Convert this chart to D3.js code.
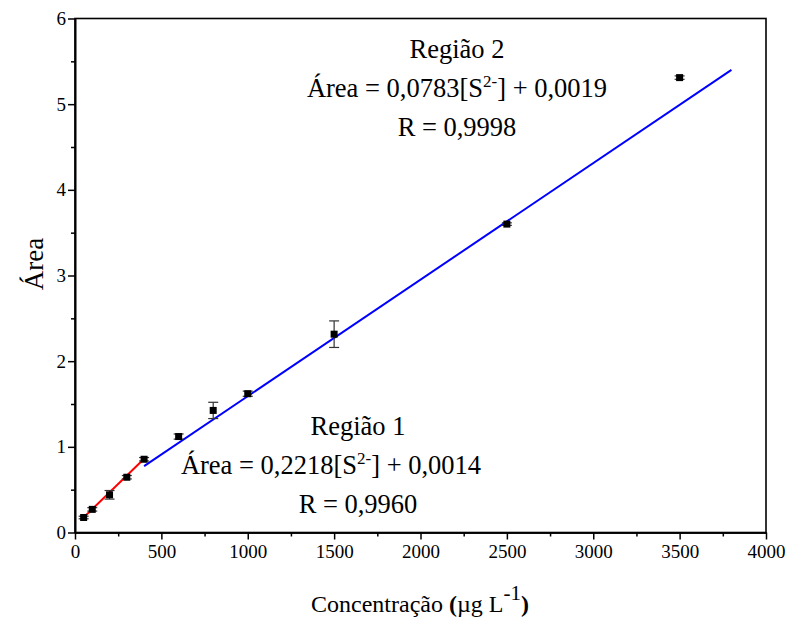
<!DOCTYPE html>
<html><head><meta charset="utf-8">
<script src="https://cdn.jsdelivr.net/npm/d3@7"></script>
<style>body{margin:0;background:#fff}svg{display:block}text{font-family:"Liberation Serif","Times New Roman",serif}</style>
</head><body><svg id="c" width="787" height="621"></svg>
<script>
const concentrations = [50, 100, 200, 300, 400, 600, 800, 1000, 1500, 2500, 3500];
const areas = [0.175, 0.27, 0.44, 0.645, 0.855, 1.12, 1.425, 1.62, 2.315, 3.60, 5.31];
const errors = [0.015, 0.02, 0.05, 0.02, 0.02, 0.03, 0.095, 0.03, 0.155, 0.015, 0.02];
const fit1X = [50, 400];
const fit1Y = [0.175, 0.86];
const fit2X = [400, 3800];
const fit2Y = [0.775, 5.40];
const xTicks = [0, 500, 1000, 1500, 2000, 2500, 3000, 3500, 4000];
const yTicks = [0, 1, 2, 3, 4, 5, 6];

const svg = d3.select("#c");
const L = 75, R = 766, T = 18.5, B = 532.5;
const x = d3.scaleLinear().domain([0, 4000]).range([L, R]);
const y = d3.scaleLinear().domain([0, 6]).range([B, T]);
const serif = '"Liberation Serif","Times New Roman",serif';

// frame
svg.append("rect").attr("x", L).attr("y", T).attr("width", R - L).attr("height", B - T)
  .attr("fill", "none").attr("stroke", "#000").attr("stroke-width", 1.6);

const xAx = svg.append("g").attr("transform", `translate(0,${B})`)
  .call(d3.axisBottom(x).tickValues(xTicks).tickSize(7).tickSizeOuter(0).tickPadding(5).tickFormat(d3.format("d")));
const xMin = svg.append("g").attr("transform", `translate(0,${B})`)
  .call(d3.axisBottom(x).tickValues(d3.range(250, 4000, 500)).tickSize(4).tickSizeOuter(0).tickFormat(""));
const yAx = svg.append("g").attr("transform", `translate(${L},0)`)
  .call(d3.axisLeft(y).tickValues(yTicks).tickSize(7).tickSizeOuter(0).tickPadding(2).tickFormat(d3.format("d")));
const yMin = svg.append("g").attr("transform", `translate(${L},0)`)
  .call(d3.axisLeft(y).tickValues(d3.range(0.5, 6, 1)).tickSize(4).tickSizeOuter(0).tickFormat(""));
[xAx, xMin, yAx, yMin].forEach(g => {
  g.attr("font-family", serif).attr("font-size", 19);
  g.select(".domain").attr("stroke-width", 1.6);
  g.selectAll(".tick line").attr("stroke-width", 1.5);
  g.selectAll("text").style("font-size", "19px").attr("fill", "#000").style("font-family", serif);
});

// fit lines
svg.append("line").attr("x1", x(fit2X[0])).attr("y1", y(fit2Y[0])).attr("x2", x(fit2X[1])).attr("y2", y(fit2Y[1]))
  .attr("stroke", "#0000ff").attr("stroke-width", 2);
svg.append("line").attr("x1", x(fit1X[0])).attr("y1", y(fit1Y[0])).attr("x2", x(fit1X[1])).attr("y2", y(fit1Y[1]))
  .attr("stroke", "#ff0000").attr("stroke-width", 2);

// error bars
const pts = concentrations.map((c, i) => ({c, a: areas[i], e: errors[i]}));
const eb = svg.append("g").attr("stroke", "#333").attr("stroke-width", 1.2);
pts.forEach(p => {
  const cx = x(p.c);
  eb.append("line").attr("x1", cx).attr("x2", cx).attr("y1", y(p.a + p.e)).attr("y2", y(p.a - p.e));
  [p.a + p.e, p.a - p.e].forEach(v => eb.append("line").attr("x1", cx - 5).attr("x2", cx + 5).attr("y1", y(v)).attr("y2", y(v)));
});
svg.append("g").selectAll("rect").data(pts).join("rect")
  .attr("x", d => x(d.c) - 3.5).attr("y", d => y(d.a) - 3.5).attr("width", 7).attr("height", 7).attr("fill", "#000");

// annotations
const FS = "26.5px";
function label(cx, cy, s) {
  svg.append("text").attr("x", cx).attr("y", cy).attr("text-anchor", "middle").style("font-size", FS).text(s);
}
function eq(cx, cy, coef, inter) {
  const t = svg.append("text").attr("x", cx).attr("y", cy).attr("text-anchor", "middle").style("font-size", FS);
  t.append("tspan").text("Área = " + coef + "[S");
  t.append("tspan").style("font-size", "17px").attr("dy", -10).text("2-");
  t.append("tspan").attr("dy", 10).text("] + " + inter);
}
label(457, 58, "Região 2");
eq(457, 97, "0,0783", "0,0019");
label(457, 136, "R = 0,9998");
label(358, 435, "Região 1");
eq(331, 474, "0,2218", "0,0014");
label(358, 513, "R = 0,9960");

// axis titles
svg.append("text").attr("transform", "translate(43,264) rotate(-90)").attr("text-anchor", "middle")
  .style("font-size", "27px").text("Área");
const xt = svg.append("text").attr("x", 420).attr("y", 612).attr("text-anchor", "middle").style("font-size", "24px");
xt.append("tspan").text("Concentração ");
xt.append("tspan").attr("font-weight", "bold").text("(");
xt.append("tspan").text("µg L");
xt.append("tspan").style("font-size", "21px").attr("dy", -12).text("-1");
xt.append("tspan").attr("dy", 12).attr("font-weight", "bold").text(")");
</script></body></html>
